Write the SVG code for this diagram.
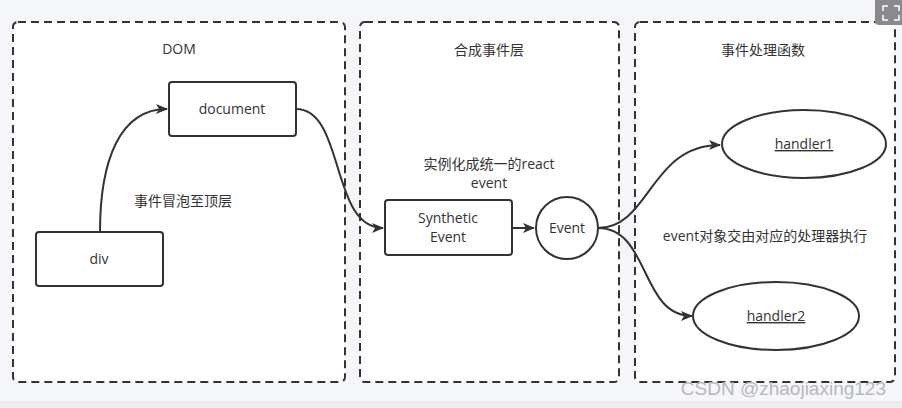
<svg xmlns="http://www.w3.org/2000/svg" width="902" height="408" viewBox="0 0 902 408">
<defs>
<marker id="ah" viewBox="0 0 12 10" refX="11" refY="5" markerWidth="12" markerHeight="10" markerUnits="userSpaceOnUse" orient="auto">
<path d="M0,0 L12,5 L0,10 L3,5 Z" fill="#333"/>
</marker>
<style>
.cont{fill:#fff;stroke:#333;stroke-width:2;stroke-dasharray:8 5}
.box{fill:#fff;stroke:#333;stroke-width:2}
.t{font-family:"Open Sans","Noto Sans CJK SC",sans-serif;font-size:14px;fill:#333;text-anchor:middle}
.c{fill:none;stroke:#333;stroke-width:2}
</style>
</defs>
<rect width="902" height="408" fill="#f5f6f9"/>
<rect y="401" width="902" height="7" fill="#ececef"/>
<g id="containers">
<g id="dom"><rect class="cont" x="13" y="22" width="332" height="360" rx="5"/><text class="t" x="179" y="54">DOM</text></g>
<g id="synthetic-layer"><rect class="cont" x="360" y="22" width="259" height="360" rx="5"/><text class="t" x="489" y="55">合成事件层</text></g>
<g id="handlers-layer"><rect class="cont" x="635" y="22" width="260" height="360" rx="5"/><text class="t" x="763" y="55">事件处理函数</text></g>
</g>
<g id="connectors">
<path class="c" d="M100,232 C100,160 120,109 167,109" marker-end="url(#ah)"/>
<path class="c" d="M296,109 C345,109 330,228 383,228" marker-end="url(#ah)"/>
<path class="c" d="M512,228 L534,228" marker-end="url(#ah)"/>
<path class="c" d="M598,228 C650,228 650,145 720,145" marker-end="url(#ah)"/>
<path class="c" d="M598,228 C650,228 640,316 692,316" marker-end="url(#ah)"/>
</g>
<g id="labels">
<text class="t" x="183" y="206">事件冒泡至顶层</text>
<text class="t" x="489" y="169">实例化成统一的react</text>
<text class="t" x="489" y="188">event</text>
<text class="t" x="765" y="241">event对象交由对应的处理器执行</text>
</g>
<g id="node-document"><rect class="box" x="169" y="82" width="127" height="54" rx="3"/><text class="t" x="232" y="114">document</text></g>
<g id="node-div"><rect class="box" x="36" y="232" width="127" height="54" rx="3"/><text class="t" x="99" y="264">div</text></g>
<g id="node-synthetic"><rect class="box" x="385" y="200" width="127" height="55" rx="3"/><text class="t" x="448" y="223">Synthetic</text><text class="t" x="448" y="242">Event</text></g>
<g id="node-event"><circle class="box" cx="567" cy="228" r="31"/><text class="t" x="567" y="233">Event</text></g>
<g id="node-handler1"><ellipse class="box" cx="804" cy="144" rx="82" ry="34"/><text class="t" x="804" y="149" text-decoration="underline">handler1</text></g>
<g id="node-handler2"><ellipse class="box" cx="776" cy="316" rx="83" ry="34"/><text class="t" x="776" y="321" text-decoration="underline">handler2</text></g>
<text x="886" y="395" font-family="'Liberation Sans',sans-serif" font-size="19" fill="#b8b8bc" text-anchor="end">CSDN @zhaojiaxing123</text>
<g id="expand-icon"><rect x="875" y="-4" width="30" height="29" rx="4" fill="#8a8a8e"/><path d="M883,11 V6 H888 M894,6 H899 V11 M883,15 V20 H888 M894,20 H899 V15" fill="none" stroke="#fff" stroke-width="1.5"/></g>
</svg>
